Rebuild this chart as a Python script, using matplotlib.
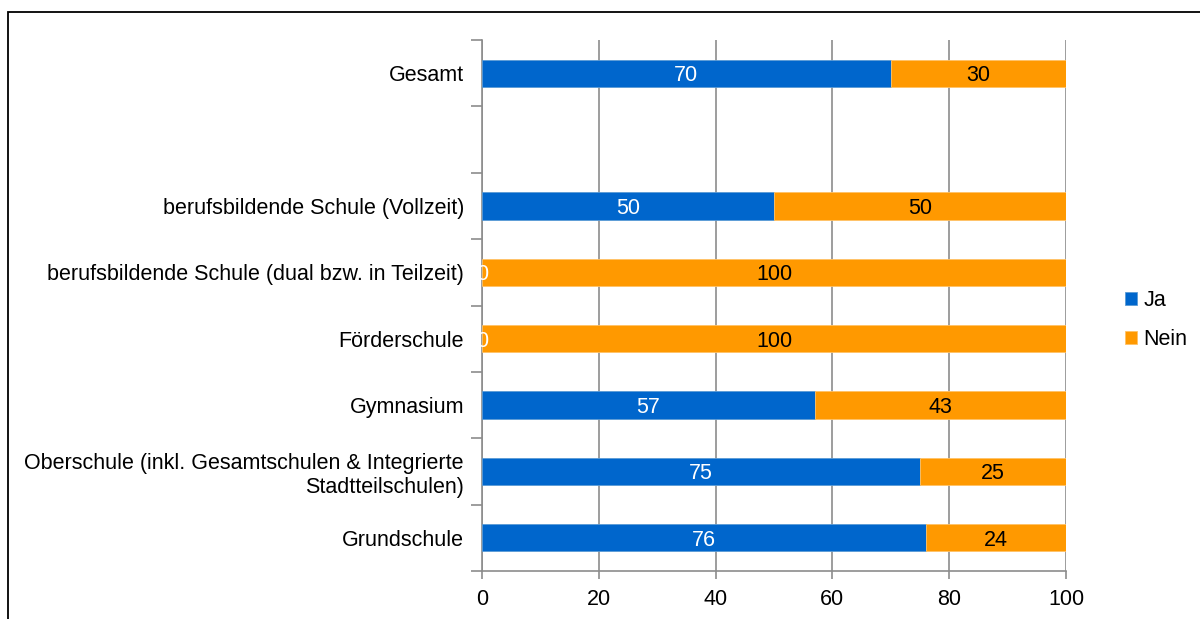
import numpy as np
import matplotlib.pyplot as plt
from matplotlib.patches import Rectangle

plt.rcParams['font.family'] = ['Liberation Sans', 'DejaVu Sans']

# bottom to top; '' is the empty slot between Gesamt and the school types
categories = ['Grundschule',
              'Oberschule (inkl. Gesamtschulen & Integrierte\nStadtteilschulen)',
              'Gymnasium',
              'Förderschule',
              'berufsbildende Schule (dual bzw. in Teilzeit)',
              'berufsbildende Schule (Vollzeit)',
              '',
              'Gesamt']
ja = [76, 75, 57, 0, 0, 50, np.nan, 70]
nein = [24, 25, 43, 100, 100, 50, np.nan, 30]
xticks = [0, 20, 40, 60, 80, 100]

blue = '#0066cc'
orange = '#ff9900'
grey = '#8c8c8c'
fs = 15.5

fig = plt.figure(figsize=(12, 6.19), dpi=100)
ax = fig.add_axes([482 / 1200, 1 - 571 / 619, (1066 - 482) / 1200, (571 - 40) / 619])

y = np.arange(len(categories))
mask = ~np.isnan(ja)
ja_arr = np.array(ja, dtype=float)
nein_arr = np.array(nein, dtype=float)

bj = ax.barh(y[mask], ja_arr[mask], height=0.41, color=blue, edgecolor='#5b9bd5',
             linewidth=0.6, label='Ja', zorder=3)
bn = ax.barh(y[mask], nein_arr[mask], left=ja_arr[mask], height=0.41, color=orange,
             edgecolor='#ffc266', linewidth=0.6, label='Nein', zorder=3)

for yi, a, b in zip(y[mask], ja_arr[mask], nein_arr[mask]):
    ax.text(a / 2, yi, f'{a:.0f}', ha='center', va='center_baseline', color='white',
            fontsize=fs, zorder=4)
    ax.text(a + b / 2, yi, f'{b:.0f}', ha='center', va='center_baseline', color='black',
            fontsize=fs, zorder=4)

ax.set_xlim(0, 100)
ax.set_ylim(-0.5, len(categories) - 0.5)
ax.set_xticks(xticks)
ax.tick_params(axis='x', length=6, color=grey, width=1.2, labelsize=fs, pad=7)

# boundary ticks on y, labels at category centres
ax.set_yticks(np.arange(-0.5, len(categories)), labels=[])
ax.set_yticks(y, labels=categories, minor=True)
ax.tick_params(axis='y', which='major', length=8, color=grey, width=1.2)
ax.tick_params(axis='y', which='minor', length=0, labelsize=fs, pad=13)
for lab in ax.get_yticklabels(minor=True):
    lab.set_multialignment('right')

ax.grid(axis='x', color=grey, linewidth=1.2, zorder=0)
for s in ['top', 'right']:
    ax.spines[s].set_visible(False)
for s in ['left', 'bottom']:
    ax.spines[s].set_color(grey)
    ax.spines[s].set_linewidth(1.2)

fig.legend(handles=[bj, bn], labels=['Ja', 'Nein'], loc='center left',
           bbox_to_anchor=(1106 / 1200, 1 - 320 / 619), frameon=False,
           fontsize=fs, handlelength=0.55, handleheight=0.55, handletextpad=0.3,
           labelspacing=0.85)

fig.patches.append(Rectangle((8 / 1200, -0.1), 1.1, 1.1 - 12 / 619,
                             transform=fig.transFigure, fill=False,
                             edgecolor='black', linewidth=1.3))

fig.savefig('out.png', dpi=100)
